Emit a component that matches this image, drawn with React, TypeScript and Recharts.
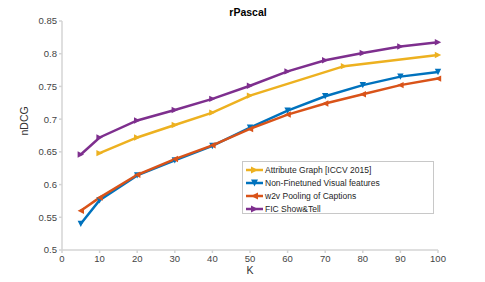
import React from "react";
import { LineChart, Line, XAxis, YAxis } from "recharts";

const kAll = [5, 10, 20, 30, 40, 50, 60, 70, 80, 90, 100];
const kAttr = [10, 20, 30, 40, 50, 75, 100];

const attrGraph = [0.648, 0.672, 0.691, 0.71, 0.736, 0.781, 0.798];
const nonFinetuned = [0.54, 0.576, 0.614, 0.637, 0.659, 0.687, 0.713, 0.735, 0.752, 0.765, 0.772];
const w2vPooling = [0.56, 0.58, 0.615, 0.639, 0.66, 0.685, 0.707, 0.724, 0.738, 0.752, 0.762];
const ficShowTell = [0.646, 0.672, 0.698, 0.714, 0.731, 0.751, 0.773, 0.79, 0.801, 0.811, 0.8175];

const xTicks = [0, 10, 20, 30, 40, 50, 60, 70, 80, 90, 100];
const yTicks = [0.5, 0.55, 0.6, 0.65, 0.7, 0.75, 0.8, 0.85];

const toRows = (ks: number[], vals: number[]) =>
  ks.map((k, i) => ({ k, v: vals[i] }));

type Dir = "right" | "left" | "down";

const series = [
  { name: "Attribute Graph [ICCV 2015]", color: "#EDB120", dir: "right" as Dir, data: toRows(kAttr, attrGraph) },
  { name: "Non-Finetuned Visual features", color: "#0072BD", dir: "down" as Dir, data: toRows(kAll, nonFinetuned) },
  { name: "w2v Pooling of Captions", color: "#D95319", dir: "left" as Dir, data: toRows(kAll, w2vPooling) },
  { name: "FIC Show&Tell", color: "#7E2F8E", dir: "right" as Dir, data: toRows(kAll, ficShowTell) },
];

function triPoints(cx: number, cy: number, dir: Dir, s: number) {
  if (dir === "right") return `${cx + s},${cy} ${cx - s},${cy - s} ${cx - s},${cy + s}`;
  if (dir === "left") return `${cx - s},${cy} ${cx + s},${cy - s} ${cx + s},${cy + s}`;
  return `${cx},${cy + s} ${cx - s},${cy - s} ${cx + s},${cy - s}`;
}

const font = "'Liberation Sans', Arial, sans-serif";

// legend drawn outside the chart so it doesn't eat plot height
function LegendBox() {
  return (
    <div
      style={{
        position: "absolute",
        left: 242,
        top: 161,
        border: "1px solid #c8c8c8",
        background: "#fff",
        width: 192,
        height: 53,
        boxSizing: "border-box",
        fontFamily: font,
        fontSize: 8.5,
        color: "#262626",
        paddingTop: 1,
      }}
    >
      {series.map((s) => (
        <div key={s.name} style={{ display: "flex", alignItems: "center", height: 13 }}>
          <svg width={20} height={10} style={{ marginLeft: 2 }}>
            <line x1={1} y1={5} x2={18} y2={5} stroke={s.color} strokeWidth={2.5} />
            <polygon points={triPoints(9.5, 5, s.dir, 3.5)} fill={s.color} />
          </svg>
          <span>{s.name}</span>
        </div>
      ))}
    </div>
  );
}

export default function App() {
  return (
    <div style={{ position: "relative", width: 485, height: 282, background: "#fff" }}>
      <style>{"body{margin:0}"}</style>
      <LineChart
        width={485}
        height={282}
        margin={{ top: 21, right: 47, bottom: 2, left: 0 }}
      >
        <XAxis
          dataKey="k"
          type="number"
          domain={[0, 100]}
          ticks={xTicks}
          allowDuplicatedCategory={false}
          height={30}
          stroke="#d4d4d4"
          strokeWidth={1.5}
          tickSize={3}
          tick={{ fill: "#444", fontSize: 9.5, fontFamily: font }}
        />
        <YAxis
          type="number"
          domain={[0.5, 0.85]}
          ticks={yTicks}
          width={62}
          stroke="#d4d4d4"
          strokeWidth={1.5}
          tickSize={3}
          tick={{ fill: "#444", fontSize: 9.5, fontFamily: font }}
          label={{ value: "nDCG", angle: -90, position: "insideLeft", offset: 24, fill: "#333", fontSize: 10.5, fontFamily: font }}
        />
        {series.map((s) => (
          <Line
            key={s.name}
            data={s.data}
            dataKey="v"
            name={s.name}
            stroke={s.color}
            strokeWidth={2.5}
            isAnimationActive={false}
            dot={(p: any) => (
              <polygon
                key={`${s.name}-${p.index}`}
                points={triPoints(p.cx, p.cy, s.dir, 3.2)}
                fill={s.color}
              />
            )}
            activeDot={false}
          />
        ))}
      </LineChart>
      <LegendBox />
      <div
        style={{
          position: "absolute",
          top: 6,
          left: 0,
          width: 496,
          textAlign: "center",
          fontFamily: font,
          fontWeight: "bold",
          fontSize: 10.5,
          color: "#000",
        }}
      >
        rPascal
      </div>
      <div
        style={{
          position: "absolute",
          top: 264,
          left: 200,
          width: 100,
          textAlign: "center",
          fontFamily: font,
          fontSize: 10.5,
          color: "#333",
        }}
      >
        K
      </div>
    </div>
  );
}
